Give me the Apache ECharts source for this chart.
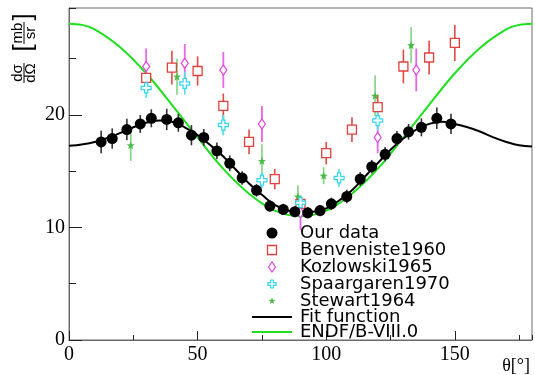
<!DOCTYPE html>
<html>
<head>
<meta charset="utf-8">
<script src="https://cdn.jsdelivr.net/npm/echarts@6/dist/echarts.min.js"></script>
<style>
  html, body { margin: 0; padding: 0; background: #fff; }
  #chart { width: 535px; height: 375px; }
</style>
</head>
<body>
<div id="chart"></div>
<script>
// Differential cross section dσ/dΩ (mb/sr) versus scattering angle θ (degrees)

// Our data
const ourAngle = [12.5, 16.8, 22.5, 27.7, 32.0, 38.0, 42.5, 47.6, 52.4, 57.5, 62.5, 67.3, 72.9, 78.1,
                  83.3, 87.8, 92.8, 97.6, 102.0, 108.0, 113.2, 117.7, 122.9, 127.5, 132.0, 137.0, 143.0, 148.5];
const ourValue = [17.6, 17.9, 18.7, 19.2, 19.7, 19.6, 19.3, 18.2, 18.0, 16.8, 15.7, 14.4, 13.3, 11.9,
                  11.6, 11.4, 11.3, 11.5, 12.1, 12.75, 14.3, 15.4, 16.5, 17.9, 18.5, 18.9, 19.7, 19.2];
const ourError = [1.0, 0.9, 0.95, 0.8, 0.8, 0.95, 0.8, 0.9, 0.75, 0.75, 0.7, 0.6, 0.55, 0.5,
                  0.5, 0.5, 0.5, 0.5, 0.55, 0.6, 0.6, 0.6, 0.65, 0.67, 0.7, 0.8, 0.95, 0.9];

// Benveniste1960
const benAngle = [30, 40, 50, 60, 70, 80, 90, 100, 110, 120, 130, 140, 150];
const benValue = [23.3, 24.2, 23.9, 20.8, 17.6, 14.3, 12.1, 16.6, 18.7, 20.7, 24.3, 25.1, 26.4];
const benError = [0.9, 1.5, 1.3, 1.1, 1.1, 0.9, 0.6, 1.0, 1.1, 1.1, 1.5, 1.5, 1.6];

// Kozlowski1965
const kozAngle = [30, 45, 60, 75, 90, 120, 135];
const kozValue = [24.3, 24.6, 24.0, 19.2, 11.3, 18.0, 24.0];
const kozError = [1.6, 1.7, 1.6, 1.6, 1.5, 1.4, 1.9];

// Spaargaren1970
const spaAngle = [30, 45, 60, 75, 90, 105, 120];
const spaValue = [22.4, 22.8, 19.1, 14.2, 12.2, 14.4, 19.5];
const spaError = [0.9, 1.0, 0.9, 0.7, 0.6, 0.8, 0.9];

// Stewart1964
const steAngle = [24, 42, 60, 75, 89, 99, 119, 133];
const steValue = [17.3, 23.4, 19.2, 15.9, 12.75, 14.6, 21.7, 26.2];
const steError = [1.4, 1.6, 1.0, 1.5, 1.0, 0.75, 1.8, 1.6];

// Fit function, sampled
const fitAngle = [0, 10, 20, 25, 30, 35, 40, 45, 50, 55, 60, 65, 70, 75, 80, 85, 90, 95, 100,
                  105, 110, 115, 120, 125, 130, 135, 140, 145, 150, 155, 160, 165, 170, 175, 180];
const fitValue = [17.25, 17.6, 18.4, 18.9, 19.3, 19.5, 19.4, 18.9, 18.2, 17.3, 16.3, 15.1, 13.9, 12.9, 12.0,
                  11.5, 11.3, 11.4, 11.7, 12.4, 13.3, 14.5, 15.7, 16.9, 17.9, 18.7, 19.2, 19.4, 19.2,
                  18.9, 18.5, 18.0, 17.6, 17.3, 17.2];

// ENDF/B-VIII.0 evaluation, sampled
const endfAngle = [0, 5, 10, 20, 30, 40, 50, 60, 70, 80, 90, 100, 110, 120, 130, 140, 150, 160, 170, 175, 180];
const endfValue = [28.1, 28.0, 27.6, 26.0, 23.7, 20.9, 18.0, 15.2, 13.0, 11.5, 11.0, 11.5, 13.0, 15.2,
                   18.0, 20.9, 23.7, 26.0, 27.6, 28.0, 28.1];

// Axis ticks
const xTicks = [0, 50, 100, 150];
const yTicks = [0, 10, 20];

const zip = (a, b) => a.map((v, i) => [v, b[i]]);
const zip3 = (a, b, c) => a.map((v, i) => [v, b[i], c[i]]);

const RED = '#e2403c', MAG = '#e23ee2', CYAN = '#2fd6ee', GREEN = '#4cbb4c', ENDF = '#1ee01e';

const crossPath = 'path://M-1.3,-4 L1.3,-4 L1.3,-1.3 L4,-1.3 L4,1.3 L1.3,1.3 L1.3,4 L-1.3,4 L-1.3,1.3 L-4,1.3 L-4,-1.3 L-1.3,-1.3 Z';
const starPath = 'path://M0,-5 L1.3,-1.7 L4.8,-1.5 L2,0.7 L3,4.2 L0,2.2 L-3,4.2 L-2,0.7 L-4.8,-1.5 L-1.3,-1.7 Z';

function errorBars(name, values, color, width) {
  return {
    name: name + ' errors',
    type: 'custom',
    z: 3,
    data: values,
    renderItem: function (params, api) {
      const x = api.value(0), y = api.value(1), e = api.value(2);
      const p1 = api.coord([x, y - e]);
      const p2 = api.coord([x, y + e]);
      return {
        type: 'line',
        shape: { x1: p1[0], y1: p1[1], x2: p2[0], y2: p2[1] },
        style: { stroke: color, lineWidth: width }
      };
    }
  };
}

const chart = echarts.init(document.getElementById('chart'));

const tickFont = { fontFamily: 'Liberation Serif', fontSize: 20, color: '#000' };

chart.setOption({
  animation: false,
  backgroundColor: '#fff',
  grid: { left: 69, right: 3, top: 8, bottom: 35, show: true, borderColor: '#6a6a6a', borderWidth: 1 },
  xAxis: [
    {
      type: 'value', min: 0, max: 180, interval: 50,
      axisLine: { lineStyle: { color: '#6a6a6a', width: 1 } },
      axisTick: { inside: true, length: 9, lineStyle: { color: '#222', width: 1 } },
      axisLabel: Object.assign({ margin: 5, showMaxLabel: false,
        formatter: v => xTicks.indexOf(v) >= 0 ? String(v) : '' }, tickFont),
      splitLine: { show: false }
    },
    {
      type: 'value', min: 0, max: 180, interval: 25, position: 'bottom',
      axisLine: { show: false },
      axisTick: { inside: true, length: 5, lineStyle: { color: '#222', width: 1 } },
      axisLabel: { show: false },
      splitLine: { show: false }
    }
  ],
  yAxis: [
    {
      type: 'value', min: 0, max: 29.5, interval: 10,
      axisLine: { show: true, lineStyle: { color: '#6a6a6a', width: 1 } },
      axisTick: { show: true, inside: true, length: 13, lineStyle: { color: '#222', width: 1 } },
      axisLabel: Object.assign({ margin: 4, showMaxLabel: false,
        formatter: v => yTicks.indexOf(v) >= 0 ? String(v) : '' }, tickFont),
      splitLine: { show: false }
    },
    {
      type: 'value', min: 0, max: 29.5, interval: 5, position: 'left',
      axisLine: { show: false },
      axisTick: { show: true, inside: true, length: 7, lineStyle: { color: '#222', width: 1 } },
      axisLabel: { show: false },
      splitLine: { show: false }
    }
  ],
  series: [
    {
      name: 'ENDF/B-VIII.0', type: 'line', data: zip(endfAngle, endfValue),
      smooth: 0.35, showSymbol: false, z: 2,
      lineStyle: { color: ENDF, width: 2 }
    },
    {
      name: 'Fit function', type: 'line', data: zip(fitAngle, fitValue),
      smooth: 0.4, showSymbol: false, z: 2,
      lineStyle: { color: '#000', width: 2 }
    },
    errorBars('Stewart1964', zip3(steAngle, steValue, steError), '#82d282', 1.6),
    errorBars('Benveniste1960', zip3(benAngle, benValue, benError), '#e24a46', 1.6),
    errorBars('Kozlowski1965', zip3(kozAngle, kozValue, kozError), '#e766e7', 1.8),
    errorBars('Spaargaren1970', zip3(spaAngle, spaValue, spaError), '#52dff2', 1.6),
    errorBars('Our data', zip3(ourAngle, ourValue, ourError), '#333', 1.6),
    {
      name: 'Stewart1964', type: 'scatter', data: zip(steAngle, steValue), z: 4,
      symbol: starPath, symbolSize: 8, itemStyle: { color: GREEN, opacity: 1 }
    },
    {
      name: 'Benveniste1960', type: 'scatter', data: zip(benAngle, benValue), z: 4,
      symbol: 'rect', symbolSize: 9,
      itemStyle: { color: '#fff', borderColor: RED, borderWidth: 1.3, opacity: 1 }
    },
    {
      name: 'Kozlowski1965', type: 'scatter', data: zip(kozAngle, kozValue), z: 4,
      symbol: 'diamond', symbolSize: [7, 10],
      itemStyle: { color: '#fff', borderColor: MAG, borderWidth: 1.2, opacity: 1 }
    },
    {
      name: 'Spaargaren1970', type: 'scatter', data: zip(spaAngle, spaValue), z: 4,
      symbol: crossPath, symbolSize: 10,
      itemStyle: { color: '#fff', borderColor: CYAN, borderWidth: 1.2, opacity: 1 }
    },
    {
      name: 'Our data', type: 'scatter', data: zip(ourAngle, ourValue), z: 5,
      symbol: 'circle', symbolSize: 11, itemStyle: { color: '#000', opacity: 1 }
    }
  ],
  graphic: (function () {
    const els = [];
    const legendFont = '18px "DejaVu Sans"';
    const mx = 272, tx = 300;
    const rows = [233, 250, 267, 284, 301, 317, 332];
    const names = ['Our data', 'Benveniste1960', 'Kozlowski1965', 'Spaargaren1970',
                   'Stewart1964', 'Fit function', 'ENDF/B-VIII.0'];
    names.forEach((n, i) => {
      els.push({ type: 'text', x: tx, y: rows[i], z: 20,
        style: { text: n, font: legendFont, fill: '#000', textAlign: 'left', textVerticalAlign: 'middle' } });
    });
    els.push({ type: 'circle', shape: { cx: mx, cy: rows[0], r: 5.5 }, style: { fill: '#000' }, z: 20 });
    els.push({ type: 'rect', shape: { x: mx - 4.5, y: rows[1] - 4.5, width: 9, height: 9 },
      style: { fill: '#fff', stroke: RED, lineWidth: 1.3 }, z: 20 });
    els.push({ type: 'polygon', shape: { points: [[mx, rows[2] - 5], [mx + 3.5, rows[2]], [mx, rows[2] + 5], [mx - 3.5, rows[2]]] },
      style: { fill: '#fff', stroke: MAG, lineWidth: 1.2 }, z: 20 });
    const c = rows[3];
    els.push({ type: 'polygon', shape: { points: [
        [mx - 1.3, c - 4], [mx + 1.3, c - 4], [mx + 1.3, c - 1.3], [mx + 4, c - 1.3], [mx + 4, c + 1.3],
        [mx + 1.3, c + 1.3], [mx + 1.3, c + 4], [mx - 1.3, c + 4], [mx - 1.3, c + 1.3], [mx - 4, c + 1.3],
        [mx - 4, c - 1.3], [mx - 1.3, c - 1.3]] },
      style: { fill: '#fff', stroke: CYAN, lineWidth: 1.2 }, z: 20 });
    const s = rows[4], k = 0.7;
    els.push({ type: 'polygon', shape: { points: [[0, -5], [1.3, -1.7], [4.8, -1.5], [2, 0.7], [3, 4.2], [0, 2.2],
        [-3, 4.2], [-2, 0.7], [-4.8, -1.5], [-1.3, -1.7]].map(p => [mx + p[0] * k, s + p[1] * k]) },
      style: { fill: GREEN }, z: 20 });
    els.push({ type: 'line', shape: { x1: 252, y1: rows[5], x2: 292, y2: rows[5] }, style: { stroke: '#000', lineWidth: 2 }, z: 20 });
    els.push({ type: 'line', shape: { x1: 252, y1: rows[6], x2: 292, y2: rows[6] }, style: { stroke: ENDF, lineWidth: 2 }, z: 20 });

    // x axis title
    els.push({ type: 'text', x: 530, y: 366, z: 20,
      style: { text: 'θ[°]', font: '18px "Liberation Serif"', fill: '#000', textAlign: 'right', textVerticalAlign: 'middle' } });

    // y axis title: dσ/dΩ [mb/sr] as stacked fractions, rotated to read upwards
    const tf = '15px "Liberation Sans"';
    const bf = '26px "Liberation Sans"';
    const txt = (t, x, y, font) => ({ type: 'text', x: x, y: y,
      style: { text: t, font: font || tf, fill: '#000', textAlign: 'center', textVerticalAlign: 'middle' } });
    els.push({
      type: 'group', x: 24, y: 50, rotation: Math.PI / 2, z: 20,
      children: [
        txt('dσ', -23, -6), txt('dΩ', -23, 7),
        txt('[', 2, 0, bf), txt('mb', 17, -6), txt('sr', 17, 7), txt(']', 33, 0, bf),
        { type: 'line', shape: { x1: -33, y1: 0, x2: -13, y2: 0 }, style: { stroke: '#000', lineWidth: 1 } },
        { type: 'line', shape: { x1: 6, y1: 0, x2: 28, y2: 0 }, style: { stroke: '#000', lineWidth: 1 } }
      ]
    });
    return els;
  })()
});
</script>
</body>
</html>
